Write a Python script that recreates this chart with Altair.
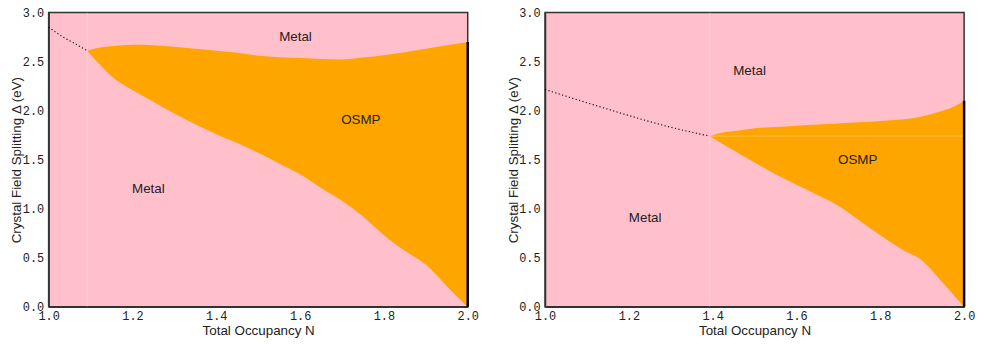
import altair as alt
import pandas as pd

# ---------------- data ----------------
# Left panel: OSMP region boundaries
left_n = [1.092, 1.12, 1.15, 1.2, 1.25, 1.3, 1.35, 1.4, 1.45, 1.5, 1.55,
          1.6, 1.65, 1.7, 1.75, 1.8, 1.85, 1.9, 1.95, 2.0]
left_upper = [2.61, 2.64, 2.655, 2.67, 2.665, 2.65, 2.63, 2.61, 2.59, 2.56,
              2.545, 2.535, 2.525, 2.52, 2.54, 2.565, 2.595, 2.63, 2.665, 2.70]
left_lower = [2.61, 2.48, 2.35, 2.21, 2.09, 1.97, 1.86, 1.76, 1.67, 1.57,
              1.46, 1.35, 1.21, 1.08, 0.92, 0.73, 0.57, 0.43, 0.21, 0.0]
left_dot_n = [1.0, 1.02, 1.04, 1.06, 1.08, 1.092]
left_dot_d = [2.85, 2.79, 2.735, 2.69, 2.64, 2.61]

# Right panel: OSMP region boundaries
right_n = [1.393, 1.42, 1.45, 1.5, 1.55, 1.6, 1.65, 1.7, 1.75, 1.8, 1.85,
           1.9, 1.95, 1.975, 2.0]
right_upper = [1.74, 1.775, 1.79, 1.82, 1.832, 1.845, 1.857, 1.868, 1.88,
               1.895, 1.91, 1.94, 2.00, 2.04, 2.10]
right_lower = [1.74, 1.67, 1.595, 1.47, 1.35, 1.245, 1.14, 1.03, 0.88, 0.73,
               0.59, 0.47, 0.24, 0.12, 0.0]
right_dot_n = [1.0, 1.1, 1.2, 1.3, 1.393]
right_dot_d = [2.215, 2.08, 1.95, 1.83, 1.74]

# Region labels
left_label_text = ["Metal", "OSMP", "Metal"]
left_label_n = [1.589, 1.745, 1.238]
left_label_d = [2.75, 1.90, 1.20]
right_label_text = ["Metal", "OSMP", "Metal"]
right_label_n = [1.488, 1.746, 1.239]
right_label_d = [2.40, 1.50, 0.90]

x_ticks = [1.0, 1.2, 1.4, 1.6, 1.8, 2.0]
y_ticks = [0.0, 0.5, 1.0, 1.5, 2.0, 2.5, 3.0]

PINK = "#FFC0CB"
ORANGE = "#FFA500"
W, H = 423, 297

x_axis = alt.Axis(values=x_ticks, format=".1f", title="Total Occupancy N",
                  ticks=False, grid=False, labelPadding=4, titlePadding=2,
                  labelFont="Liberation Mono", labelFontSize=12, labelColor="#222",
                  titleFont="Liberation Sans", titleFontSize=13.5,
                  titleFontWeight="normal", titleColor="#222",
                  domainColor="#333", domainWidth=1.5, labelFlush=False)
y_axis = alt.Axis(values=y_ticks, format=".1f", title="Crystal Field Splitting \u0394 (eV)",
                  ticks=False, grid=False, labelPadding=5,
                  labelFont="Liberation Mono", labelFontSize=12, labelColor="#222",
                  titleFont="Liberation Sans", titleFontSize=13.5,
                  titleFontWeight="normal", titleColor="#222",
                  titleAngle=270, titleX=-32, titleY=H / 2, titleAlign="center",
                  titleBaseline="middle",
                  domainColor="#333", domainWidth=1.5, labelFlush=False)


def X(field):
    return alt.X(field, type="quantitative", scale=alt.Scale(domain=[1, 2], nice=False, zero=False),
                 axis=x_axis)


def Y(field):
    return alt.Y(field, type="quantitative", scale=alt.Scale(domain=[0, 3], nice=False, zero=False),
                 axis=y_axis)


def panel(n, up, lo, dn, dd, ltxt, ln, ld, extra_h=False):
    reg = pd.DataFrame({"N": n, "upper": up, "lower": lo})
    dots = pd.DataFrame({"N": dn, "D": dd})
    labs = pd.DataFrame({"N": ln, "D": ld, "t": ltxt})
    layers = []
    area = alt.Chart(reg).mark_area(color=ORANGE, interpolate="monotone", opacity=1).encode(
        x=X("N"), y=Y("upper"), y2="lower")
    layers.append(area)
    # faint vertical artifact line at onset of OSMP
    vline = alt.Chart(pd.DataFrame({"N": [n[0]], "a": [0.0], "b": [3.0]})).mark_rule(
        color="white", opacity=0.25, strokeWidth=1).encode(x=X("N"), y=Y("a"), y2="b")
    layers.append(vline)
    if extra_h:
        hline = alt.Chart(pd.DataFrame({"a": [n[0]], "b": [2.0], "D": [up[0]]})).mark_rule(
            color="white", opacity=0.3, strokeWidth=1).encode(x=X("a"), x2="b", y=Y("D"))
        layers.append(hline)
    edge = alt.Chart(pd.DataFrame({"N": [2.0], "a": [0.0], "b": [up[-1]]})).mark_rule(
        color="black", strokeWidth=2.5).encode(x=X("N"), y=Y("a"), y2="b")
    layers.append(edge)
    dot = alt.Chart(dots).mark_line(color="black", strokeWidth=1.1, strokeDash=[1.2, 2.4],
                                    interpolate="monotone").encode(x=X("N"), y=Y("D"))
    layers.append(dot)
    txt = alt.Chart(labs).mark_text(font="Liberation Sans", fontSize=13.5, color="#222").encode(
        x=X("N"), y=Y("D"), text="t:N")
    layers.append(txt)
    return alt.layer(*layers).properties(width=W, height=H)


left = panel(left_n, left_upper, left_lower, left_dot_n, left_dot_d,
             left_label_text, left_label_n, left_label_d)
right = panel(right_n, right_upper, right_lower, right_dot_n, right_dot_d,
              right_label_text, right_label_n, right_label_d, extra_h=True)

chart = alt.hconcat(left, right, spacing=78, bounds="flush").properties(
    padding={"left": 1, "top": -4, "right": 0, "bottom": 0}
).configure_view(fill=PINK, stroke="#333", strokeWidth=1.5)

chart.save("out.html", embed_options={"renderer": "svg", "actions": False})
